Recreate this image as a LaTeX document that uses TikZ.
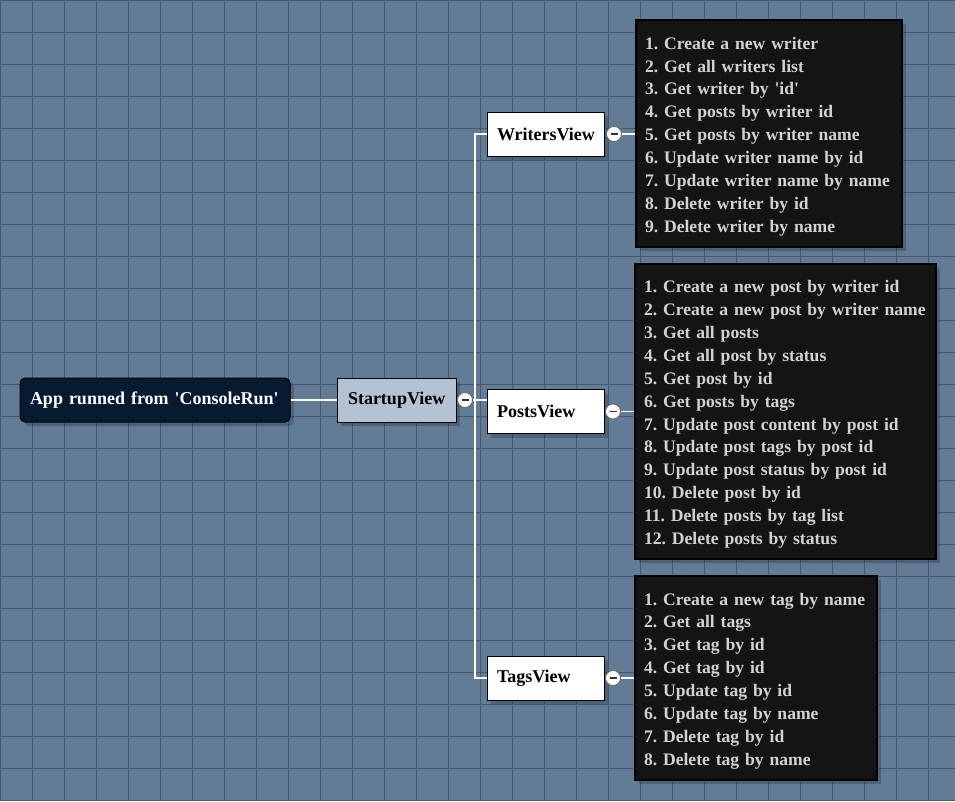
\documentclass[tikz,border=0pt]{standalone}
\usepackage{fontspec}
\setmainfont{Liberation Serif}
\definecolor{bg}{HTML}{627C96}
\definecolor{gridc}{HTML}{46586C}
\definecolor{rootc}{HTML}{061A30}
\definecolor{startc}{HTML}{B4C3D3}
\definecolor{listc}{HTML}{141414}
\definecolor{listtxt}{HTML}{D2D2D2}
\tikzset{
  shad/.style={preaction={fill=black,opacity=0.2,transform canvas={xshift=4pt,yshift=-4pt}}},
  basefont/.style={font=\fontsize{18}{22.8}\selectfont\bfseries\frenchspacing},
  listfont/.style={font=\fontsize{17.6}{22.85}\selectfont\bfseries\frenchspacing},
  rootbox/.style={basefont,shad,draw=black,line width=1pt,fill=rootc,text=white,rounded corners=5pt,
     minimum height=44pt,inner xsep=10pt,inner ysep=0pt,text width=250pt,align=left},
  startbox/.style={basefont,shad,draw=black,line width=1pt,fill=startc,text=black,
     minimum height=44pt,inner xsep=11pt,inner ysep=0pt,text width=97pt,align=left},
  viewbox/.style={basefont,shad,draw=black,line width=1pt,fill=white,text=black,
     minimum height=44pt,inner xsep=10pt,inner ysep=0pt,text width=97pt,align=left},
  listbox/.style={listfont,shad,draw=black,line width=1.2pt,fill=listc,text=listtxt,
     inner xsep=9pt,inner ysep=0pt,align=left},
  togg/.style={circle,draw=gray!80!black,fill=white,line width=0.8pt,minimum size=15pt,inner sep=0pt,
     path picture={\draw[line width=1.3pt,black!80] ([xshift=-3.5pt]path picture bounding box.center) -- ([xshift=3.5pt]path picture bounding box.center);}},
  conn/.style={draw=white,line width=1.5pt}
}
\begin{document}
\begin{tikzpicture}[x=1pt,y=-1pt]
\useasboundingbox (0,0) rectangle (955,801);
\fill[bg] (0,0) rectangle (955,801);
\foreach \i in {0,32,...,928} {\draw[gridc,line width=1.3pt] (\i+0.3,0) -- (\i+0.3,801);}
\foreach \j in {0,32,...,800} {\draw[gridc,line width=1.3pt] (0,\j+0.3) -- (955,\j+0.3);}

\coordinate (tr) at (475,0);

\node[rootbox] (root) at (155,400) {\mbox{App runned from \textquotesingle ConsoleRun\textquotesingle}};
\node[startbox] (startup) at (396.5,400) {\mbox{StartupView}};
\node[viewbox] (writers) at (545.5,134) {\mbox{WritersView}};
\node[viewbox] (posts) at (545.5,411.5) {\mbox{PostsView}};
\node[viewbox] (tags) at (545.5,678) {\mbox{TagsView}};

\node[listbox,text width=248pt,minimum height=227pt] (wlist) at (769,133.5) {\mbox{\rule{0pt}{18pt}1. Create a new writer}\\\mbox{2. Get all writers list}\\\mbox{3. Get writer by \textquotesingle id\textquotesingle}\\\mbox{4. Get posts by writer id}\\\mbox{5. Get posts by writer name}\\\mbox{6. Update writer name by id}\\\mbox{7. Update writer name by name}\\\mbox{8. Delete writer by id}\\\mbox{9. Delete writer by name}};
\node[listbox,text width=283pt,minimum height=295pt] (plist) at (785.5,411.5) {\mbox{\rule{0pt}{18pt}1. Create a new post by writer id}\\\mbox{2. Create a new post by writer name}\\\mbox{3. Get all posts}\\\mbox{4. Get all post by status}\\\mbox{5. Get post by id}\\\mbox{6. Get posts by tags}\\\mbox{7. Update post content by post id}\\\mbox{8. Update post tags by post id}\\\mbox{9. Update post status by post id}\\\mbox{10. Delete post by id}\\\mbox{11. Delete posts by tag list}\\\mbox{12. Delete posts by status}};
\node[listbox,text width=224pt,minimum height=204pt] (tlist) at (756,678) {\mbox{\rule{0pt}{18pt}1. Create a new tag by name}\\\mbox{2. Get all tags}\\\mbox{3. Get tag by id}\\\mbox{4. Get tag by id}\\\mbox{5. Update tag by id}\\\mbox{6. Update tag by name}\\\mbox{7. Delete tag by id}\\\mbox{8. Delete tag by name}};

\node[togg] (cs) at (465,400) {};
\node[togg] (cw) at (614,134) {};
\node[togg] (cp) at (613,411.5) {};
\node[togg] (ct) at (613,678) {};

\draw[conn] (root.east) -- (startup.west);
\draw[conn] (cs.east) -- (cs.east -| posts.west);
\draw[conn] (writers.west) -- (writers.west -| tr) -- (tags.west -| tr) -- (tags.west);
\draw[conn] (cw.east) -- (cw.east -| wlist.west);
\draw[conn] (cp.east) -- (cp.east -| plist.west);
\draw[conn] (ct.east) -- (ct.east -| tlist.west);
\end{tikzpicture}
\end{document}
